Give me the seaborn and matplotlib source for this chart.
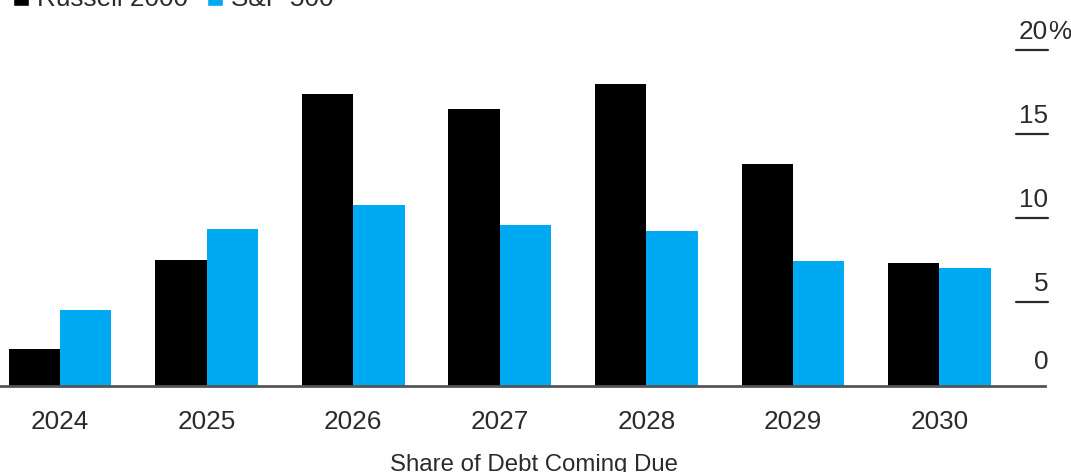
import matplotlib
matplotlib.use("Agg")
import matplotlib.pyplot as plt
import matplotlib.transforms as mtransforms
from matplotlib.patches import Patch
import seaborn as sns
import pandas as pd

years = ["2024", "2025", "2026", "2027", "2028", "2029", "2030"]
russell_2000 = [2.2, 7.5, 17.4, 16.5, 18.0, 13.2, 7.3]
sp_500 = [4.5, 9.35, 10.8, 9.6, 9.2, 7.45, 7.0]
series_names = ["Russell 2000", "S&P 500"]
y_ticks = [0, 5, 10, 15, 20]
y_tick_labels = ["0", "5", "10", "15", "20"]

BLACK = "#000000"
BLUE = "#00AAF2"
TEXT = "#2b2b2b"
AXIS = "#555555"
FS = 18.8

df = pd.DataFrame({
    "year": years * 2,
    "share": russell_2000 + sp_500,
    "index": [series_names[0]] * len(years) + [series_names[1]] * len(years),
})

sns.set_style("white")
plt.rcParams["font.family"] = ["Liberation Sans", "DejaVu Sans"]

fig = plt.figure(figsize=(10.71, 4.72), dpi=100)
ax = fig.add_axes([0.0, 0.1822, 0.9757, 0.7475])

sns.barplot(data=df, x="year", y="share", hue="index", order=years,
            hue_order=series_names, palette=[BLACK, BLUE], width=0.7,
            gap=0, saturation=1, legend=False, linewidth=0, ax=ax)

ax.set_xlim(-0.41, 6.72)
ax.set_ylim(0, 21)
for s in ["top", "left", "right"]:
    ax.spines[s].set_visible(False)
ax.spines["bottom"].set_color(AXIS)
ax.spines["bottom"].set_linewidth(2)

ax.tick_params(axis="x", length=9, width=1.2, color=AXIS, labelsize=FS,
               labelcolor=TEXT, pad=8)
ax.set_yticks([])
ax.set_ylabel("")
ax.set_xlabel("Share of Debt Coming Due", fontsize=17.3, color=TEXT,
              labelpad=15, x=0.511)

# y axis drawn Bloomberg-style: label sitting above a short dash, on the right
trans = mtransforms.blended_transform_factory(ax.transAxes, ax.transData)
for val, lab in zip(y_ticks, y_tick_labels):
    if val > 0:
        ax.plot([0.972, 1.003], [val, val], color=TEXT, lw=1.6,
                transform=trans, clip_on=False)
    offset = 1.4 if val == 0 else 1.1
    ax.text(1.003, val + offset, lab, transform=trans, ha="right",
            va="center", fontsize=FS, color=TEXT)
    if val == y_ticks[-1]:
        ax.text(1.003, val + offset, "%", transform=trans, ha="left",
                va="center", fontsize=FS, color=TEXT)

handles = [Patch(facecolor=BLACK), Patch(facecolor=BLUE)]
fig.legend(handles, series_names, loc="upper left",
           bbox_to_anchor=(0.002, 1.049), ncol=2, frameon=False,
           fontsize=FS, handlelength=0.62, handleheight=0.62,
           handletextpad=0.3, columnspacing=0.73, borderaxespad=0,
           labelcolor=TEXT)

fig.savefig("out.png", dpi=100)
